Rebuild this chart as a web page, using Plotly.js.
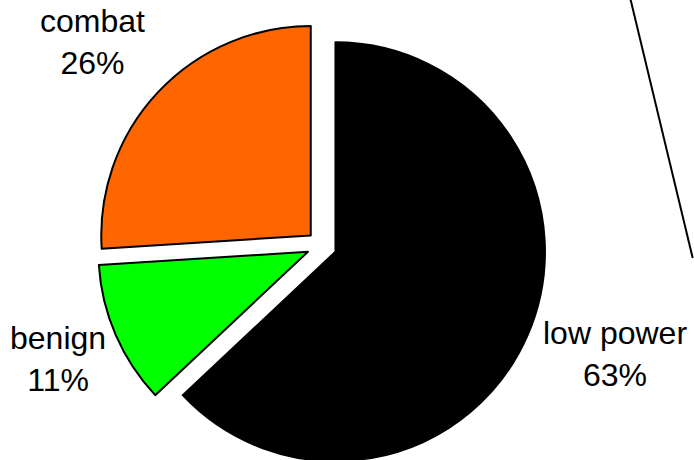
<!DOCTYPE html>
<html>
<head>
<meta charset="utf-8">
<script src="https://cdn.plot.ly/plotly-3.0.1.min.js"></script>
<style>
html, body { margin: 0; padding: 0; overflow: hidden; background: #fff; }
#chart { width: 694px; height: 500px; }
</style>
</head>
<body>
<div id="chart"></div>
<script>
const labels = ['low power', 'benign', 'combat'];
const values = [63, 11, 26];
const colors = ['#000000', '#00FF00', '#FF6600'];
// label text positions (page pixels) for each category
const labelPos = {
  'low power': [615, 354],
  'benign': [58, 359],
  'combat': [92.5, 42]
};

const W = 694, H = 500;
const total = values.reduce((a, b) => a + b, 0);

const trace = {
  type: 'pie',
  labels: labels,
  values: values,
  sort: false,
  direction: 'clockwise',
  rotation: 0,
  pull: [0.0716, 0.0716, 0.0716],
  textinfo: 'none',
  hoverinfo: 'label+percent',
  marker: { colors: colors, line: { color: '#000000', width: 2 } },
  domain: { x: [0, 643.4 / W], y: [1 - 470.3 / H, 1 - 21.3 / H] },
  showlegend: false
};

const annotations = labels.map((lab, i) => ({
  xref: 'paper', yref: 'paper',
  x: labelPos[lab][0] / W, y: 1 - labelPos[lab][1] / H,
  xanchor: 'center', yanchor: 'middle',
  text: lab + '<br>' + Math.round(values[i] / total * 100) + '%',
  showarrow: false,
  font: { family: 'Liberation Sans, Arial, sans-serif', size: 32, color: '#000000' }
}));

const layout = {
  width: W, height: H,
  margin: { l: 0, r: 0, t: 0, b: 0 },
  paper_bgcolor: '#ffffff',
  plot_bgcolor: '#ffffff',
  font: { family: 'Liberation Sans, Arial, sans-serif' },
  showlegend: false,
  annotations: annotations,
  shapes: [{
    type: 'line', xref: 'paper', yref: 'paper',
    x0: 630.2 / W, y0: 1 - (-2) / H,
    x1: 692.7 / W, y1: 1 - 258 / H,
    line: { color: '#000000', width: 2 }
  }]
};

Plotly.newPlot('chart', [trace], layout, { displayModeBar: false, staticPlot: true });
</script>
</body>
</html>
